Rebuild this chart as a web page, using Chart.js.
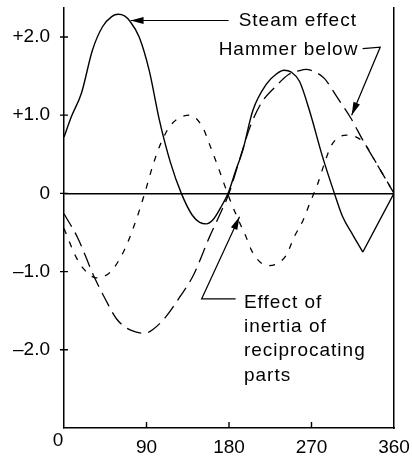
<!DOCTYPE html>
<html>
<head>
<meta charset="utf-8">
<script src="https://cdn.jsdelivr.net/npm/chart.js@4/dist/chart.umd.min.js"></script>
<style>
html,body{margin:0;padding:0;background:#fff;}
</style>
</head>
<body>
<canvas id="myChart" width="412" height="459"></canvas>
<script>
// crank angle in degrees
const steamDeg=[0,8,19,31,42,52,59,66,72,82,93,104,116,128,140,148,155,163,171,179,187,195,206,221,232,240,248,257,268,282,295,304,315,326];
const steamVal=[0.72,0.98,1.28,1.83,2.13,2.26,2.29,2.27,2.2,2.0,1.57,0.94,0.4,0.0,-0.28,-0.37,-0.39,-0.33,-0.18,0.0,0.28,0.55,1.06,1.4,1.53,1.575,1.55,1.43,1.05,0.47,0.0,-0.3,-0.53,-0.75];
// the straight return of the steam line
const steamTailDeg=[326,360];
const steamTailVal=[-0.75,0];

const hammerDeg=[0,15,33,45,57,68,78,88,97,111,126,141,159,170,180,192,203,215,232,245,257,264,272,284,299,313,326,341,360];
const hammerVal=[-0.26,-0.57,-1.07,-1.35,-1.6,-1.72,-1.77,-1.79,-1.74,-1.58,-1.33,-1.05,-0.55,-0.27,0.0,0.45,0.85,1.15,1.38,1.52,1.57,1.585,1.56,1.47,1.21,0.96,0.68,0.38,0.0];

const inertiaDeg=[0,13,21,35,51,66,79,88,97,106,117,137,151,159,168,180,188,198,206,222,242,251,261,268,277,284,292,308,326,343,360];
const inertiaVal=[-0.45,-0.81,-0.96,-1.08,-1.0,-0.72,-0.33,0.0,0.36,0.65,0.88,1.0,0.85,0.62,0.34,-0.05,-0.28,-0.54,-0.76,-0.925,-0.8,-0.56,-0.34,-0.13,0.13,0.38,0.62,0.745,0.66,0.34,0.0];

const xTickVals=[0,90,180,270,360];
const xTickLabels=['','90','180','270','360'];
const yTickVals=[-2,-1,0,1,2];
const yTickLabels=['\u20132.0','\u20131.0','0','+1.0','+2.0'];

const FONT='"Liberation Sans", Arial, sans-serif';

function pts(xs,ys){
    var out=[];
    for(var i=0;i<xs.length;i++){out.push({x:xs[i],y:ys[i]});}
    return out;
}

function arrow(ctx,line){
    ctx.beginPath();
    ctx.moveTo(line[0][0],line[0][1]);
    for(var i=1;i<line.length;i++){ctx.lineTo(line[i][0],line[i][1]);}
    ctx.stroke();
    var a=line[line.length-2], b=line[line.length-1];
    var ang=Math.atan2(b[1]-a[1],b[0]-a[0]);
    var L=13, W=3.5;
    ctx.beginPath();
    ctx.moveTo(b[0],b[1]);
    ctx.lineTo(b[0]-L*Math.cos(ang)+W*Math.sin(ang),b[1]-L*Math.sin(ang)-W*Math.cos(ang));
    ctx.lineTo(b[0]-L*Math.cos(ang)-W*Math.sin(ang),b[1]-L*Math.sin(ang)+W*Math.cos(ang));
    ctx.closePath();
    ctx.fill();
}

// no extra room for half labels, the axes sit where the picture has them
function noPad(s){s.paddingTop=0;s.paddingBottom=0;s.paddingLeft=0;s.paddingRight=0;}

// tick marks that cross the axes + the labels and arrows
const notes={
    id:'notes',
    afterDraw(chart){
        const ctx=chart.ctx;
        const xs=chart.scales.x, ys=chart.scales.y;
        const X=v=>xs.getPixelForValue(v), Y=v=>ys.getPixelForValue(v);
        const a=chart.chartArea;
        ctx.save();
        ctx.strokeStyle='#000';
        ctx.fillStyle='#000';
        ctx.lineWidth=1.4;
        ctx.beginPath();
        yTickVals.forEach(v=>{ctx.moveTo(a.left-4,Y(v));ctx.lineTo(a.left+4,Y(v));});
        xTickVals.slice(1,4).forEach(v=>{ctx.moveTo(X(v),a.bottom);ctx.lineTo(X(v),a.bottom-6);});
        ctx.stroke();

        ctx.lineWidth=1.2;
        arrow(ctx,[[X(179.6),Y(2.21)],[X(72.6),Y(2.21)]]);
        arrow(ctx,[[X(325.8),Y(1.85)],[X(345),Y(1.87)],[X(313.8),Y(1.0)]]);
        arrow(ctx,[[X(187.2),Y(-1.35)],[X(150.1),Y(-1.35)],[X(191.5),Y(-0.30)]]);

        ctx.font='19px '+FONT;
        ctx.letterSpacing='1px';
        ctx.textAlign='left';
        ctx.textBaseline='alphabetic';
        ctx.fillText('Steam effect',X(190.5),Y(2.137));
        ctx.fillText('Hammer below',X(168.7),Y(1.767));
        var lines=['Effect of','inertia of','reciprocating','parts'];
        for(var i=0;i<lines.length;i++){
            ctx.fillText(lines[i],X(196.3),Y(-1.469)+i*24.1);
        }
        ctx.letterSpacing='0px';
        ctx.textAlign='center';
        ctx.fillText('0',a.left-6,a.bottom+18);
        ctx.restore();
    }
};

var myChart=document.getElementById("myChart").getContext('2d');

var chart=new Chart(myChart,{
    type:'line',
    data:{
        datasets:[
            {label:'Steam effect',data:pts(steamDeg,steamVal),borderColor:'#000',borderWidth:1.4,pointRadius:0,cubicInterpolationMode:'monotone',fill:false},
            {label:'Steam effect',data:pts(steamTailDeg,steamTailVal),borderColor:'#000',borderWidth:1.4,pointRadius:0,tension:0,fill:false},
            {label:'Hammer below',data:pts(hammerDeg,hammerVal),borderColor:'#000',borderWidth:1.3,borderDash:[15,7],pointRadius:0,cubicInterpolationMode:'monotone',fill:false},
            {label:'Effect of inertia of reciprocating parts',data:pts(inertiaDeg,inertiaVal),borderColor:'#000',borderWidth:1.3,borderDash:[6,8],pointRadius:0,cubicInterpolationMode:'monotone',fill:false}
        ]
    },
    options:{
        responsive:false,
        animation:false,
        layout:{padding:{top:8,right:18,left:0,bottom:0}},
        plugins:{legend:{display:false},tooltip:{enabled:false}},
        scales:{
            x:{
                type:'linear',min:0,max:360,
                afterBuildTicks:s=>{s.ticks=xTickVals.map(v=>({value:v}));},
                afterFit:s=>{s.height=31;noPad(s);},
                grid:{display:false,drawTicks:false},
                border:{display:true,color:'#000',width:1.5},
                ticks:{
                    padding:8,color:'#000',font:{size:19,family:FONT},maxRotation:0,autoSkip:false,
                    callback:(v)=>xTickLabels[xTickVals.indexOf(v)]
                }
            },
            y:{
                type:'linear',min:-3,max:2.37,
                afterBuildTicks:s=>{s.ticks=yTickVals.map(v=>({value:v}));},
                afterFit:s=>{s.width=64;noPad(s);},
                grid:{
                    drawTicks:false,lineWidth:1.4,
                    color:(c)=>c.tick && c.tick.value===0 ? '#000' : 'rgba(0,0,0,0)'
                },
                border:{display:true,color:'#000',width:1.5},
                ticks:{
                    padding:14,color:'#000',font:{size:19,family:FONT},autoSkip:false,
                    callback:(v)=>yTickLabels[yTickVals.indexOf(v)]
                }
            },
            y2:{
                type:'linear',position:'right',
                afterFit:s=>{s.width=0;noPad(s);},
                grid:{display:false,drawTicks:false},
                border:{display:true,color:'#000',width:1.5},
                ticks:{display:false}
            }
        }
    },
    plugins:[notes]
});
</script>
</body>
</html>
